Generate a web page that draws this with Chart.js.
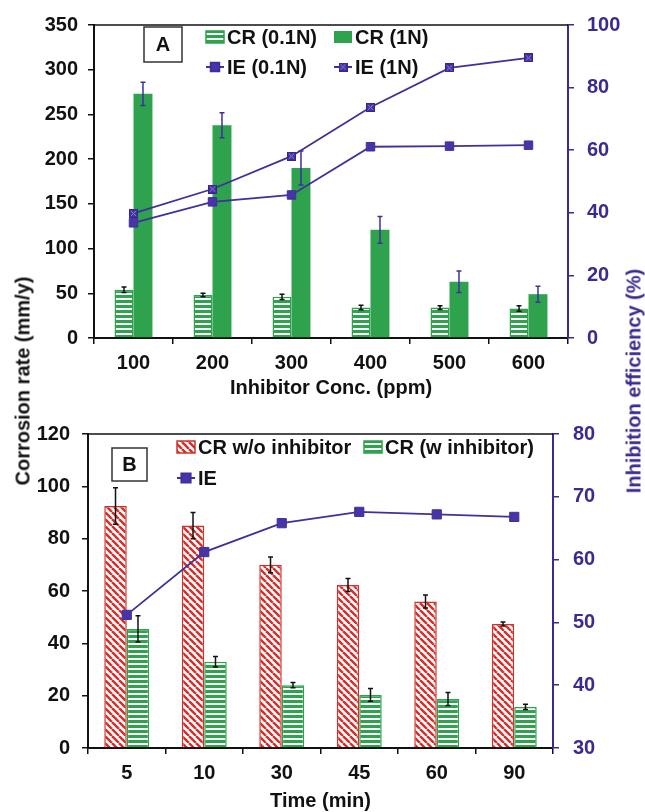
<!DOCTYPE html>
<html>
<head>
<meta charset="utf-8">
<script src="https://cdn.jsdelivr.net/npm/chart.js@4.4.1/dist/chart.umd.min.js"></script>
<style>
  html, body { margin:0; padding:0; background:#fff; }
  body { width:645px; height:812px; position:relative; overflow:hidden; font-family:"Liberation Sans", Arial, sans-serif; }
  canvas { position:absolute; left:0; }
  #ca { top:0; }
  #cb { top:400px; }
  .vt { position:absolute; font-weight:bold; font-size:20px; white-space:nowrap; transform:translate(-50%,-50%) rotate(-90deg); }
</style>
</head>
<body>
<canvas id="ca" width="645" height="400"></canvas>
<canvas id="cb" width="645" height="412"></canvas>
<div class="vt" style="left:23px; top:381px; color:#111;">Corrosion rate (mm/y)</div>
<div class="vt" style="left:634px; top:381px; color:#3b2a8f;">Inhibition efficiency (%)</div>
<script>
// ---------- Panel A data ----------
const concLabels = ['100', '200', '300', '400', '500', '600'];
const cr01 = [54, 48, 46, 34, 34, 33];
const cr01Err = [3, 2, 3, 2.5, 2, 3];
const cr1 = [273, 238, 190, 121, 63, 49];
const cr1Err = [13, 14, 19, 15, 12, 9];
const ie01 = [36.8, 43.5, 45.7, 61.1, 61.3, 61.6];
const ie1 = [39.8, 47.6, 58.1, 73.7, 86.3, 89.5];

// ---------- Panel B data ----------
const timeLabels = ['5', '10', '30', '45', '60', '90'];
const crWo = [92.5, 85, 70, 62.3, 56, 47.4];
const crWoErr = [7, 5, 3, 2.5, 2.5, 0.8];
const crW = [45.5, 33, 24, 20.3, 18.7, 15.7];
const crWErr = [5, 2, 1, 2.4, 2.5, 1];
const ieB = [51.2, 61.2, 65.8, 67.6, 67.2, 66.8];

// ---------- styles ----------
const GREEN = '#2ea24c';
const RED = '#d2302b';
const PURPLE = '#40309c';
const AXIS_PURPLE = '#3b2a8f';
const BLACK = '#111111';
const FONT = '"Liberation Sans", Arial, sans-serif';

function hStripes() {
  const c = document.createElement('canvas'); c.width = 5; c.height = 5;
  const g = c.getContext('2d');
  g.fillStyle = '#ffffff'; g.fillRect(0, 0, 5, 5);
  g.fillStyle = GREEN; g.fillRect(0, 0, 5, 3);
  return g.createPattern(c, 'repeat');
}
function dStripes() {
  const s = 7;
  const c = document.createElement('canvas'); c.width = s; c.height = s;
  const g = c.getContext('2d');
  g.fillStyle = '#ffffff'; g.fillRect(0, 0, s, s);
  g.strokeStyle = RED; g.lineWidth = 2.5;
  for (let k = -1; k <= 1; k++) {
    g.beginPath(); g.moveTo(k * s, 0); g.lineTo(k * s + s, s); g.stroke();
  }
  return g.createPattern(c, 'repeat');
}
function crossedSquare(size) {
  const c = document.createElement('canvas'); c.width = size; c.height = size;
  const g = c.getContext('2d');
  g.fillStyle = '#4535a6'; g.fillRect(0, 0, size, size);
  g.strokeStyle = '#8a7fcc'; g.lineWidth = 1;
  g.beginPath(); g.moveTo(1.5, 1.5); g.lineTo(size - 1.5, size - 1.5);
  g.moveTo(size - 1.5, 1.5); g.lineTo(1.5, size - 1.5); g.stroke();
  g.strokeStyle = '#35268a'; g.lineWidth = 1.2; g.strokeRect(0.6, 0.6, size - 1.2, size - 1.2);
  return c;
}

// ---------- plugins ----------
const errorBars = {
  id: 'errorBars',
  afterDatasetsDraw(chart) {
    const ctx = chart.ctx;
    chart.data.datasets.forEach((ds, i) => {
      if (!ds.errors) return;
      const meta = chart.getDatasetMeta(i);
      const sc = chart.scales[meta.yAxisID];
      ctx.save();
      ctx.strokeStyle = ds.errColor; ctx.lineWidth = 1.5;
      meta.data.forEach((el, j) => {
        const v = ds.data[j], e = ds.errors[j];
        const y1 = sc.getPixelForValue(v + e), y2 = sc.getPixelForValue(v - e);
        const x = el.x;
        ctx.beginPath();
        ctx.moveTo(x, y1); ctx.lineTo(x, y2);
        ctx.moveTo(x - 2.5, y1); ctx.lineTo(x + 2.5, y1);
        ctx.moveTo(x - 2.5, y2); ctx.lineTo(x + 2.5, y2);
        ctx.stroke();
      });
      ctx.restore();
    });
  }
};

const frame = {
  id: 'frame',
  afterDraw(chart, args, opts) {
    const ctx = chart.ctx, a = chart.chartArea;
    ctx.save();
    ctx.strokeStyle = BLACK; ctx.lineWidth = 1.5;
    ctx.beginPath(); ctx.moveTo(a.left, a.top); ctx.lineTo(a.right, a.top); ctx.stroke();
    // panel letter box
    const b = opts.box;
    ctx.fillStyle = '#fff'; ctx.fillRect(b.x, b.y, b.w, b.h);
    ctx.strokeStyle = '#333'; ctx.lineWidth = 1.5; ctx.strokeRect(b.x, b.y, b.w, b.h);
    ctx.fillStyle = BLACK; ctx.font = 'bold 20px ' + FONT;
    ctx.textAlign = 'center'; ctx.textBaseline = 'middle';
    ctx.fillText(b.text, b.x + b.w / 2, b.y + b.h / 2 + 1);
    // legend
    ctx.textAlign = 'left';
    opts.items.forEach(it => {
      const ds = chart.data.datasets[it.ds];
      if (ds.type === 'line') {
        ctx.strokeStyle = ds.borderColor; ctx.lineWidth = 2;
        ctx.beginPath(); ctx.moveTo(it.x, it.y); ctx.lineTo(it.x + 18, it.y); ctx.stroke();
        ctx.fillStyle = ds.pointBackgroundColor; ctx.strokeStyle = ds.borderColor;
        Chart.helpers.drawPoint(ctx, { pointStyle: ds.pointStyle, radius: ds.pointRadius, borderWidth: 1, rotation: 0 }, it.x + 9, it.y);
      } else {
        ctx.fillStyle = ds.backgroundColor;
        ctx.fillRect(it.x, it.y - 6, 18, 12);
        if (ds.borderWidth) { ctx.strokeStyle = ds.borderColor; ctx.lineWidth = 1.5; ctx.strokeRect(it.x, it.y - 6, 18, 12); }
      }
      ctx.fillStyle = BLACK;
      ctx.fillText(ds.label, it.x + 21, it.y + 1);
    });
    ctx.restore();
  }
};

function fixW(w) { return s => { s.width = w; }; }
function fixH(h) { return s => { s.height = h; }; }

function yLeft(min, max, step, width, pad) {
  return {
    position: 'left', min, max,
    ticks: { stepSize: step, color: BLACK, font: { family: FONT, size: 20, weight: 'bold' }, padding: pad },
    grid: { drawOnChartArea: false, drawTicks: true, tickLength: 6, color: BLACK, lineWidth: 1.5 },
    border: { display: true, color: BLACK, width: 2 },
    afterFit: fixW(width)
  };
}
function yRight(min, max, step, width, pad) {
  return {
    position: 'right', min, max,
    ticks: { stepSize: step, color: AXIS_PURPLE, font: { family: FONT, size: 20, weight: 'bold' }, padding: pad },
    grid: { drawOnChartArea: false, drawTicks: true, tickLength: 6, color: AXIS_PURPLE, lineWidth: 1.5 },
    border: { display: true, color: AXIS_PURPLE, width: 2 },
    afterFit: fixW(width)
  };
}
function xAxis(title, height, tpad) {
  return {
    offset: true,
    ticks: { color: BLACK, font: { family: FONT, size: 20, weight: 'bold' }, padding: 7, maxRotation: 0 },
    grid: { offset: true, drawOnChartArea: false, drawTicks: true, tickLength: 6, color: BLACK, lineWidth: 1.5 },
    border: { display: true, color: BLACK, width: 2 },
    title: { display: true, text: title, color: BLACK, font: { family: FONT, size: 20, weight: 'bold' }, padding: { top: 0, bottom: tpad } },
    afterFit: fixH(height)
  };
}

const common = {
  responsive: false,
  animation: false,
  devicePixelRatio: 1,
  plugins: { legend: { display: false }, tooltip: { enabled: false } }
};

// ---------- Chart A ----------
new Chart(document.getElementById('ca'), {
  type: 'bar',
  data: {
    labels: concLabels,
    datasets: [
      { label: 'CR (0.1N)', data: cr01, errors: cr01Err, errColor: BLACK, backgroundColor: hStripes(), borderColor: GREEN, borderWidth: 1.5,
        yAxisID: 'y', categoryPercentage: 0.48, barPercentage: 1.0, order: 2 },
      { label: 'CR (1N)', data: cr1, errors: cr1Err, errColor: PURPLE, backgroundColor: GREEN, borderWidth: 0,
        yAxisID: 'y', categoryPercentage: 0.48, barPercentage: 1.0, order: 2 },
      { type: 'line', label: 'IE (0.1N)', data: ie01, yAxisID: 'y1', borderColor: PURPLE, borderWidth: 1.8,
        pointStyle: 'rect', pointRadius: 6, pointBackgroundColor: '#4535a6', pointBorderColor: PURPLE, pointBorderWidth: 1, tension: 0, order: 0 },
      { type: 'line', label: 'IE (1N)', data: ie1, yAxisID: 'y1', borderColor: PURPLE, borderWidth: 1.8,
        pointStyle: crossedSquare(9), pointRadius: 5, pointBackgroundColor: '#4535a6', pointBorderColor: PURPLE, tension: 0, order: 0 }
    ]
  },
  options: Object.assign({}, common, {
    layout: { padding: { top: 23, left: 0, right: 0, bottom: 0 } },
    scales: {
      x: xAxis('Inhibitor Conc. (ppm)', 62, 0),
      y: yLeft(0, 350, 50, 94, 10),
      y1: yRight(0, 100, 20, 77, 13)
    },
    plugins: Object.assign({}, common.plugins, {
      frame: {
        box: { x: 144, y: 27, w: 38, h: 35, text: 'A' },
        items: [
          { ds: 0, x: 206, y: 37 }, { ds: 1, x: 334, y: 37 },
          { ds: 2, x: 206, y: 67 }, { ds: 3, x: 334, y: 67 }
        ]
      }
    })
  }),
  plugins: [errorBars, frame]
});

// ---------- Chart B ----------
new Chart(document.getElementById('cb'), {
  type: 'bar',
  data: {
    labels: timeLabels,
    datasets: [
      { label: 'CR w/o inhibitor', data: crWo, errors: crWoErr, errColor: BLACK, backgroundColor: dStripes(), borderColor: RED, borderWidth: 1.5,
        yAxisID: 'y', categoryPercentage: 0.58, barPercentage: 1.0, order: 2 },
      { label: 'CR (w inhibitor)', data: crW, errors: crWErr, errColor: BLACK, backgroundColor: hStripes(), borderColor: GREEN, borderWidth: 1.5,
        yAxisID: 'y', categoryPercentage: 0.58, barPercentage: 1.0, order: 2 },
      { type: 'line', label: 'IE', data: ieB, yAxisID: 'y1', borderColor: PURPLE, borderWidth: 1.8,
        pointStyle: 'rect', pointRadius: 6.5, pointBackgroundColor: '#4535a6', pointBorderColor: PURPLE, pointBorderWidth: 1, tension: 0, order: 0 }
    ]
  },
  options: Object.assign({}, common, {
    layout: { padding: { top: 34, left: 0, right: 0, bottom: 0 } },
    scales: {
      x: xAxis('Time (min)', 64, -1),
      y: yLeft(0, 120, 20, 88, 12),
      y1: yRight(30, 80, 10, 92, 14)
    },
    plugins: Object.assign({}, common.plugins, {
      frame: {
        box: { x: 112, y: 48, w: 35, h: 33, text: 'B' },
        items: [
          { ds: 0, x: 177, y: 47 }, { ds: 1, x: 364, y: 47 },
          { ds: 2, x: 177, y: 78 }
        ]
      }
    })
  }),
  plugins: [errorBars, frame]
});
</script>
</body>
</html>
